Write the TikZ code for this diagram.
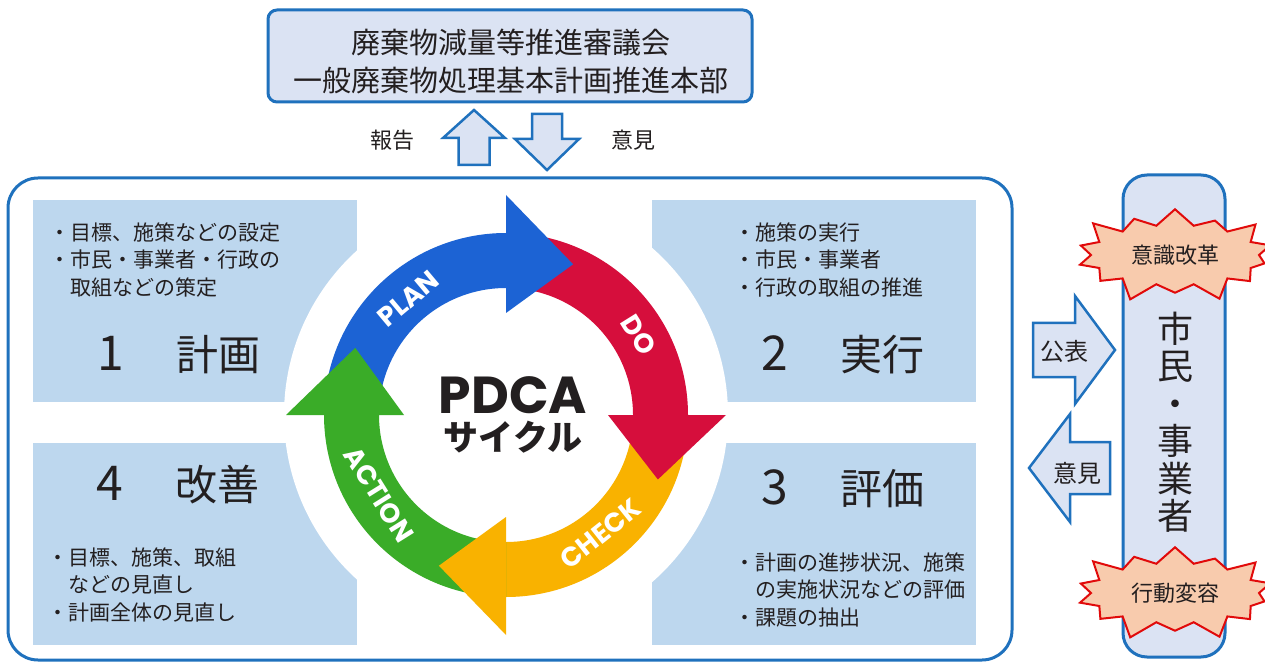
\documentclass[tikz,border=0pt]{standalone}
\usepackage{fontspec}
\setmainfont{Noto Sans CJK JP}
\newfontfamily\pdcafont{Poppins}
\usetikzlibrary{positioning,calc,shapes.symbols}

\definecolor{frameblue}{RGB}{31,113,189}
\definecolor{quadblue}{RGB}{189,215,238}
\definecolor{paleblue}{RGB}{219,227,243}
\definecolor{planblue}{RGB}{28,99,212}
\definecolor{dored}{RGB}{214,14,60}
\definecolor{checkyellow}{RGB}{249,178,0}
\definecolor{actgreen}{RGB}{58,172,40}
\definecolor{burstred}{RGB}{225,10,10}
\definecolor{burstfill}{RGB}{248,203,173}
\definecolor{ink}{RGB}{35,31,32}

\newcommand\jfs[2]{\fontsize{#1}{#2}\selectfont}
% block arrow: tail x, tail y, direction, length, head width, shaft width, head length
\newcommand\blockarrow[7]{%
  \draw[draw=frameblue, fill=paleblue, line width=2.5pt, shift={(#1,#2)}, rotate=#3]
    (0,{-#6/2}) -- ({#4-#7},{-#6/2}) -- ({#4-#7},{-#5/2}) -- (#4,0)
    -- ({#4-#7},{#5/2}) -- ({#4-#7},{#6/2}) -- (0,{#6/2}) -- cycle;}

\begin{document}
\begin{tikzpicture}[x=1pt,y=1pt,text=ink]
\tikzstyle{frame}=[draw=frameblue, line width=3pt]
\tikzstyle{quad}=[fill=quadblue, minimum width=324pt, minimum height=202pt, inner sep=0pt]
\tikzstyle{bul}=[anchor=north west, align=left, inner sep=0pt, font=\jfs{21}{27.5}]
\tikzstyle{stage}=[inner sep=0pt, font=\jfs{42}{42}]
\tikzstyle{burst}=[starburst, starburst points=14, starburst point height=22pt, draw=burstred, line width=2pt, fill=burstfill, minimum width=212pt, minimum height=104pt, inner sep=0pt, font=\jfs{22}{22}]
\tikzstyle{ringlbl}=[text=white, inner sep=0pt, font=\pdcafont\bfseries\jfs{27}{27}]

\useasboundingbox (0,0) rectangle (1265,662);

% council on top
\node[frame, fill=paleblue, rounded corners=9pt, minimum width=484pt, minimum height=92pt] (board) at (510,606) {};
\node[align=center, inner sep=0pt, font=\jfs{29}{38}] (boardtxt) at (511,601) {廃棄物減量等推進審議会\\一般廃棄物処理基本計画推進本部};

\node[font=\jfs{22}{22}] (rep) at (392,522) {報告};
\node[font=\jfs{22}{22}] (opn) at (633,522) {意見};
\blockarrow{474}{497}{90}{55}{62}{31}{28}
\blockarrow{547}{548}{-90}{56}{64}{30}{31}

% PDCA frame and the four steps
\node[frame, rounded corners=30pt, minimum width=1004pt, minimum height=482pt] (pdca) at (510,243) {};
\node[quad] (plan) at (195,361) {};
\node[quad] (do) at (813.5,361) {};
\node[quad] (check) at (813.5,118) {};
\node[quad] (act) at (195,118) {};

\coordinate (C) at (506,247);
\fill[white] (C) circle[radius=222];

\begin{scope}[shift={(C)}]
\fill[planblue] (180:182) arc[start angle=180, end angle=90, radius=182] -- (90:127) arc[start angle=90, end angle=180, radius=127] -- cycle;
\fill[dored] (90:182) arc[start angle=90, end angle=0, radius=182] -- (0:127) arc[start angle=0, end angle=90, radius=127] -- cycle;
\fill[checkyellow] (0:182) arc[start angle=0, end angle=-90, radius=182] -- (-90:127) arc[start angle=-90, end angle=0, radius=127] -- cycle;
\fill[actgreen] (-90:182) arc[start angle=-90, end angle=-180, radius=182] -- (-180:127) arc[start angle=-180, end angle=-90, radius=127] -- cycle;
% heads
\fill[planblue] (90:102) -- (90:220) -- (66:165) -- cycle;
\fill[dored] (0:102) -- (0:220) -- (-23:165) -- cycle;
\fill[checkyellow] (-90:102) -- (-90:220) -- (-114:165) -- cycle;
\fill[actgreen] (180:102) -- (180:220) -- (156:165) -- cycle;

\node[ringlbl, rotate=40] (planlbl) at (130:152) {PLAN};
\node[ringlbl, rotate=-58] (dolbl) at (31:155) {DO};
\node[ringlbl, rotate=38.5] (checklbl) at (-51.5:152) {CHECK};
\node[ringlbl, rotate=-58] (actlbl) at (212:150) {ACTION};
\end{scope}

\node[inner sep=0pt, font=\pdcafont\bfseries\jfs{52}{52}] (ttl) at (513,267) {PDCA};
\node[inner sep=0pt, font=\bfseries\jfs{35}{35}] (sub) at (513,225) {サイクル};

\node[stage] (s1) at (179,307) {{\jfs{48}{48}1}\hspace{53pt}計画};
\node[stage] (s2) at (843,307) {{\jfs{48}{48}2}\hspace{53pt}実行};
\node[stage] (s3) at (843,173) {{\jfs{48}{48}3}\hspace{53pt}評価};
\node[stage] (s4) at (178,177) {{\jfs{48}{48}4}\hspace{53pt}改善};

\node[bul] (plantxt) at (49,439.5) {・目標、施策などの設定\\・市民・事業者・行政の\\　取組などの策定};
\node[bul] (dotxt) at (734,439.5) {・施策の実行\\・市民・事業者\\・行政の取組の推進};
\node[bul] (checktxt) at (734,109.5) {・計画の進捗状況、施策\\　の実施状況などの評価\\・課題の抽出};
\node[bul] (acttxt) at (47,114.5) {・目標、施策、取組\\　などの見直し\\・計画全体の見直し};

% citizens and businesses
\node[frame, fill=paleblue, rounded corners=24pt, minimum width=102pt, minimum height=482pt] (people) at (1174,246) {};
\node[align=center, inner sep=0pt, font=\jfs{36}{37.5}] (ppl) at (1175,240) {市\\民\\・\\事\\業\\者};
\node[burst] (aware) at (1175,407) {意識改革};
\node[burst] (change) at (1175,69) {行動変容};

\blockarrow{1033}{312}{0}{82}{108}{54}{40}
\blockarrow{1110}{194}{180}{81}{108}{52}{41}
\node[font=\jfs{24}{24}, inner sep=0pt] (pub) at (1064,311) {公表};
\node[font=\jfs{24}{24}, inner sep=0pt] (fb) at (1077,189) {意見};
\end{tikzpicture}
\end{document}
